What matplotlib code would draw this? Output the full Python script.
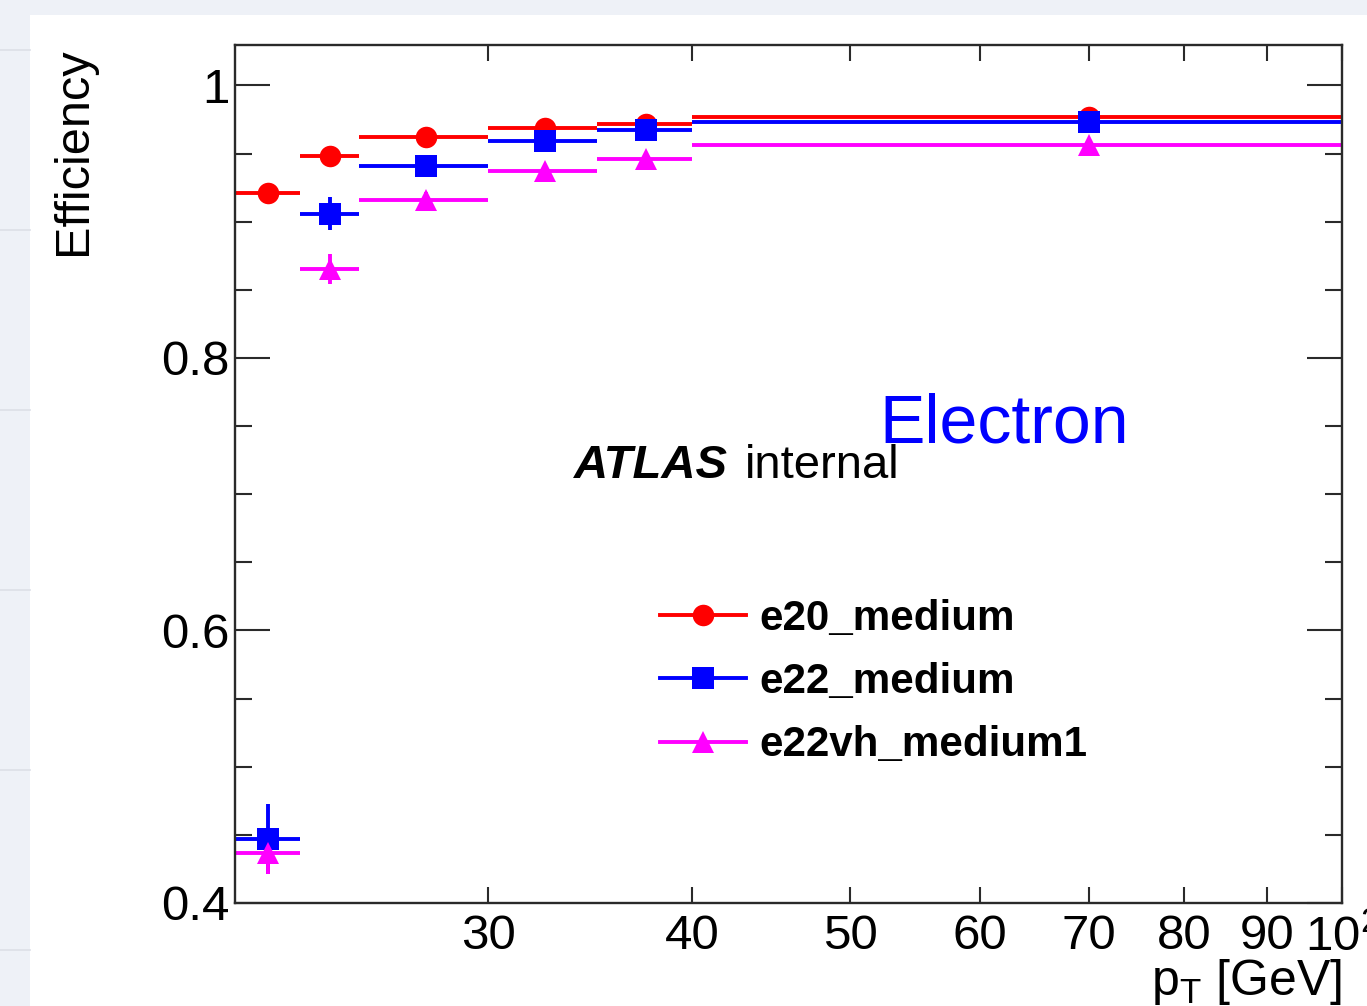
import matplotlib
matplotlib.use("Agg")
import matplotlib.pyplot as plt
from matplotlib.lines import Line2D
from matplotlib.patches import Rectangle
from matplotlib.ticker import FixedLocator, FixedFormatter, NullLocator, MultipleLocator

plt.rcParams["font.family"] = ["Liberation Sans", "DejaVu Sans"]
plt.rcParams["mathtext.fontset"] = "custom"
plt.rcParams["mathtext.rm"] = "Liberation Sans"
plt.rcParams["mathtext.it"] = "Liberation Sans:italic"
plt.rcParams["mathtext.bf"] = "Liberation Sans:bold"

# pT bins [GeV]: centre and half width
pt_center = [22, 24, 27.5, 32.5, 37.5, 70]
pt_halfwidth = [1, 1, 2.5, 2.5, 2.5, 30]

# trigger efficiencies per bin
eff_e20 = [0.921, 0.948, 0.962, 0.969, 0.972, 0.977]
err_e20 = [0.004, 0.004, 0.003, 0.003, 0.003, 0.002]
eff_e22 = [0.447, 0.906, 0.941, 0.959, 0.967, 0.973]
err_e22 = [0.026, 0.012, 0.006, 0.004, 0.004, 0.002]
eff_e22vh = [0.437, 0.865, 0.916, 0.937, 0.946, 0.956]
err_e22vh = [0.016, 0.011, 0.006, 0.005, 0.004, 0.002]

series_names = ["e20_medium", "e22_medium", "e22vh_medium1"]
series_colors = ["#ff0000", "#0000ff", "#ff00ff"]
series_markers = ["o", "s", "^"]

xtick_values = [30, 40, 50, 60, 70, 80, 90, 100]
xtick_labels = ["30", "40", "50", "60", "70", "80", "90", r"$10^{2}$"]
ytick_values = [0.4, 0.6, 0.8, 1.0]
ytick_labels = ["0.4", "0.6", "0.8", "1"]

W, H = 1367, 1006
fig = plt.figure(figsize=(W / 100, H / 100), dpi=100, facecolor="#eef1f7")

# white page area with the light sidebar around it
fig.add_artist(Rectangle((30 / W, 0), 1 - 30 / W, 1 - 15 / H,
                         transform=fig.transFigure, facecolor="white",
                         edgecolor="none", zorder=-5))
for yy in [50, 230, 410, 590, 770, 950]:
    fig.add_artist(Line2D([0, 30 / W], [1 - yy / H] * 2,
                          transform=fig.transFigure, color="#dcdfe7", lw=1.2))

ax = fig.add_axes([235 / W, 1 - 903 / H, (1342 - 235) / W, (903 - 45) / H])
ax.set_facecolor("white")

series = [(eff_e20, err_e20), (eff_e22, err_e22), (eff_e22vh, err_e22vh)]
msizes = [15.5, 15.5, 16]
for (eff, err), name, col, mk, ms in zip(series, series_names, series_colors,
                                         series_markers, msizes):
    ax.errorbar(pt_center, eff, xerr=pt_halfwidth, yerr=err, fmt=mk,
                color=col, ms=ms, mew=0, elinewidth=2.8, capsize=0,
                clip_on=False)

ax.set_xscale("log")
ax.set_xlim(21, 100)
ax.set_ylim(0.4, 1.0297)
ax.xaxis.set_major_locator(FixedLocator(xtick_values))
ax.xaxis.set_major_formatter(FixedFormatter(xtick_labels))
ax.xaxis.set_minor_locator(NullLocator())
ax.yaxis.set_major_locator(FixedLocator(ytick_values))
ax.yaxis.set_major_formatter(FixedFormatter(ytick_labels))
ax.yaxis.set_minor_locator(MultipleLocator(0.05))

for sp in ax.spines.values():
    sp.set_linewidth(1.7)
    sp.set_color("#2a2a2a")

ax.tick_params(axis="both", which="both", direction="in", top=True,
               right=True, color="#2a2a2a", width=1.5, labelsize=35.5)
ax.tick_params(axis="x", which="major", length=11.5, pad=8)
ax.tick_params(axis="y", which="major", length=25, pad=4)
ax.tick_params(axis="y", which="minor", length=12)

# axis titles
fig.text(73 / W, 1 - 47 / H, "Efficiency", rotation=90, ha="center",
         va="top", fontsize=35)
fig.text(1342 / W, 1 - 995 / H, r"p$_{\mathrm{T}}$ [GeV]", ha="right",
         va="baseline", fontsize=36)

# labels inside the frame
ax.text((574 - 235) / 1107, (903 - 478) / 858, "ATLAS", transform=ax.transAxes,
        fontsize=34, fontweight="bold", fontstyle="italic", va="baseline")
ax.text((745 - 235) / 1107, (903 - 478) / 858, "internal",
        transform=ax.transAxes, fontsize=34, va="baseline")
ax.text((879 - 235) / 1107, (903 - 443) / 858, "Electron",
        transform=ax.transAxes, fontsize=49, color="#0000ff", va="baseline")

handles = [Line2D([], [], color=c, marker=m, ms=s, mew=0, lw=2.8)
           for c, m, s in zip(series_colors, series_markers, msizes)]
ax.legend(handles, series_names, loc="upper left",
          bbox_to_anchor=(660 / W, 1 - 599 / H), bbox_transform=fig.transFigure,
          frameon=False, borderpad=0, borderaxespad=0, handlelength=2.05,
          handletextpad=0.32, labelspacing=0.55,
          prop={"size": 30.3, "weight": "bold"})

fig.savefig("out.png", dpi=100, facecolor=fig.get_facecolor())
